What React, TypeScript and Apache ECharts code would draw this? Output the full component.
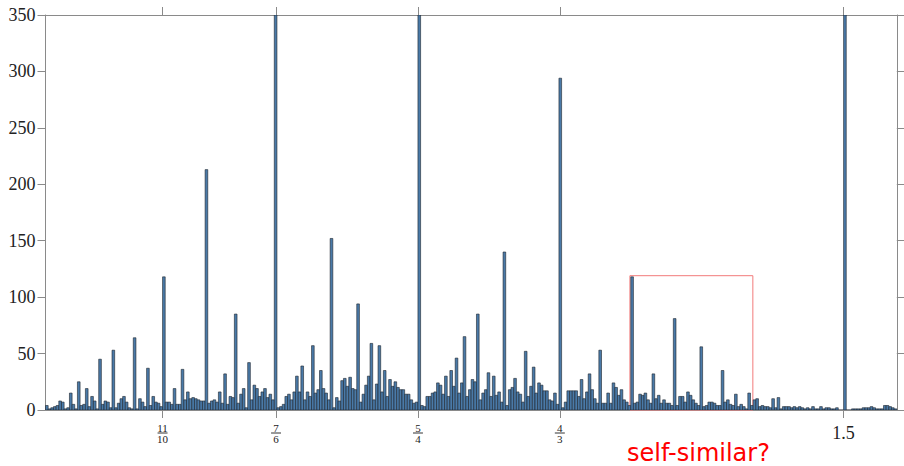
import React, { useEffect, useRef } from "react";
import * as echarts from "echarts";

// Histogram bins: 320 bins of width 1/640 starting at 1.03125
const BIN_START = 1.03125;
const BIN_WIDTH = 0.0015625;
const Y_MAX = 350;

// counts per bin (bins 0-79)
const countsA = [
  4, 1, 2, 3, 4, 8, 7, 1, 2, 15, 5, 1, 25, 4, 5, 19, 3, 12, 8, 1,
  45, 5, 8, 7, 2, 53, 2, 6, 10, 12, 7, 2, 1, 64, 1, 10, 7, 3, 37, 4,
  12, 7, 6, 3, 118, 7, 7, 5, 19, 5, 5, 36, 9, 16, 10, 11, 10, 9, 8, 8,
  213, 6, 8, 9, 7, 16, 6, 32, 5, 12, 11, 85, 6, 14, 19, 2, 42, 9, 22, 19,
];
// bins 80-159
const countsB = [
  12, 16, 19, 11, 14, 9, 420, 2, 3, 5, 12, 14, 9, 16, 30, 16, 39, 9, 16, 12,
  57, 15, 18, 35, 19, 15, 9, 152, 2, 11, 8, 26, 28, 21, 29, 19, 18, 94, 7, 14,
  22, 30, 59, 9, 23, 57, 16, 35, 12, 27, 21, 25, 20, 18, 18, 14, 14, 9, 6, 7,
  420, 4, 3, 12, 12, 15, 16, 24, 22, 14, 30, 12, 35, 21, 46, 15, 24, 65, 12, 18,
];
// bins 160-239
const countsC = [
  27, 25, 85, 9, 15, 18, 33, 12, 30, 13, 16, 7, 140, 4, 18, 20, 28, 16, 14, 7,
  52, 12, 21, 38, 15, 24, 22, 17, 17, 9, 8, 15, 5, 294, 2, 7, 17, 17, 17, 17,
  12, 27, 10, 16, 32, 18, 10, 6, 53, 6, 6, 15, 6, 24, 20, 13, 18, 9, 7, 4,
  118, 6, 7, 14, 13, 15, 9, 6, 32, 10, 13, 6, 9, 6, 6, 4, 81, 4, 12, 12,
];
// bins 240-319
const countsD = [
  7, 16, 13, 9, 6, 4, 56, 3, 4, 7, 7, 6, 4, 4, 35, 7, 9, 5, 4, 14,
  3, 5, 3, 1, 15, 4, 9, 10, 3, 4, 3, 3, 2, 10, 2, 11, 1, 3, 3, 3,
  2, 3, 2, 3, 2, 1, 2, 1, 3, 1, 1, 3, 1, 2, 2, 1, 1, 2, 0, 0,
  420, 0, 0, 1, 1, 1, 1, 2, 2, 2, 3, 2, 1, 1, 1, 4, 4, 3, 2, 1,
];

const yTicks = [0, 50, 100, 150, 200, 250, 300, 350];
const xTickValues = [11 / 10, 7 / 6, 5 / 4, 4 / 3, 1.5];
const xTickLabels = ["11/10", "7/6", "5/4", "4/3", "1.5"];

const boxX = [1.3745, 1.4467];
const boxY = [0, 119];
const annotation = "self-similar?";

const counts = [...countsA, ...countsB, ...countsC, ...countsD];

function labelFor(v: number): string {
  let best = 0;
  let bestD = Infinity;
  xTickValues.forEach((t, i) => {
    const d = Math.abs(t - v);
    if (d < bestD) {
      bestD = d;
      best = i;
    }
  });
  const s = xTickLabels[best];
  if (s.includes("/")) {
    const [n, d] = s.split("/");
    return `{n|${n}}\n{l|}\n{d|${d}}`;
  }
  return `{v|${s}}`;
}

export default function App() {
  const ref = useRef<HTMLDivElement>(null);
  useEffect(() => {
    if (!ref.current) return;
    const chart = echarts.init(ref.current, undefined, { renderer: "svg" });
    const data = counts.map((c, i) => [
      BIN_START + i * BIN_WIDTH,
      c,
      BIN_START + (i + 1) * BIN_WIDTH,
    ]);
    const axisColor = "#8a8a8a";
    const serif = '"Liberation Serif", "DejaVu Serif", serif';
    chart.setOption({
      animation: false,
      backgroundColor: "#ffffff",
      grid: { left: 45.5, right: 7.2, top: 15, bottom: 56, containLabel: false },
      xAxis: [
        {
          type: "value",
          position: "bottom",
          min: BIN_START,
          max: BIN_START + counts.length * BIN_WIDTH,
          splitLine: { show: false },
          axisLine: { show: true, onZero: false, lineStyle: { color: axisColor, width: 1 } },
          axisTick: {
            show: true,
            inside: false,
            length: 8,
            customValues: xTickValues,
            lineStyle: { color: axisColor },
          },
          axisLabel: {
            show: true,
            margin: 13,
            customValues: xTickValues,
            formatter: (v: number) => labelFor(v),
            color: "#222",
            fontFamily: serif,
            rich: {
              n: { fontSize: 11, lineHeight: 9, fontFamily: serif, color: "#222", align: "center" },
              l: { width: 10, height: 1, lineHeight: 2, backgroundColor: "#333", align: "center" },
              d: { fontSize: 11, lineHeight: 9, fontFamily: serif, color: "#222", align: "center" },
              v: { fontSize: 18, lineHeight: 20, fontFamily: serif, color: "#222" },
            },
          },
        },
        {
          type: "value",
          position: "top",
          min: BIN_START,
          max: BIN_START + counts.length * BIN_WIDTH,
          splitLine: { show: false },
          axisLine: { show: true, onZero: false, lineStyle: { color: axisColor, width: 1 } },
          axisTick: {
            show: true,
            inside: false,
            length: 8,
            customValues: xTickValues,
            lineStyle: { color: axisColor },
          },
          axisLabel: { show: false },
        },
      ],
      yAxis: [
        {
          type: "value",
          position: "left",
          min: 0,
          max: Y_MAX,
          interval: 50,
          splitLine: { show: false },
          axisLine: { show: true, lineStyle: { color: axisColor, width: 1 } },
          axisTick: { show: true, length: 8, lineStyle: { color: axisColor } },
          axisLabel: {
            margin: 10,
            color: "#222",
            fontFamily: serif,
            fontSize: 18,
            customValues: yTicks,
          },
        },
        {
          type: "value",
          position: "right",
          min: 0,
          max: Y_MAX,
          interval: 50,
          splitLine: { show: false },
          axisLine: { show: true, lineStyle: { color: axisColor, width: 1 } },
          axisTick: { show: true, length: 8, lineStyle: { color: axisColor } },
          axisLabel: { show: false },
        },
      ],
      series: [
        {
          type: "custom",
          xAxisIndex: 0,
          yAxisIndex: 0,
          clip: true,
          encode: { x: [0, 2], y: 1 },
          data,
          renderItem: (params: any, api: any) => {
            const x0 = api.value(0);
            const v = api.value(1);
            const x1 = api.value(2);
            const top = api.coord([x0, Math.min(v, Y_MAX)]);
            const bot = api.coord([x1, 0]);
            return {
              type: "rect",
              shape: {
                x: top[0],
                y: top[1],
                width: bot[0] - top[0],
                height: bot[1] - top[1],
              },
              style: { fill: "#4a7aa8", stroke: "#1c232b", lineWidth: 0.6 },
            };
          },
          markArea: {
            silent: true,
            itemStyle: {
              color: "rgba(0,0,0,0)",
              borderColor: "#f27b7b",
              borderWidth: 1,
            },
            data: [[{ coord: [boxX[0], boxY[0]] }, { coord: [boxX[1], boxY[1]] }]],
          },
        },
      ],
      graphic: [
        {
          type: "text",
          x: 627,
          y: 441,
          style: {
            text: annotation,
            fill: "#ff0000",
            fontSize: 24,
            lineHeight: 24,
            fontFamily: '"DejaVu Sans", sans-serif',
            verticalAlign: "top",
          },
        },
      ],
    });
    return () => chart.dispose();
  }, []);
  return (
    <div
      ref={ref}
      style={{ position: "fixed", left: 0, top: 0, width: 904, height: 466 }}
    />
  );
}
